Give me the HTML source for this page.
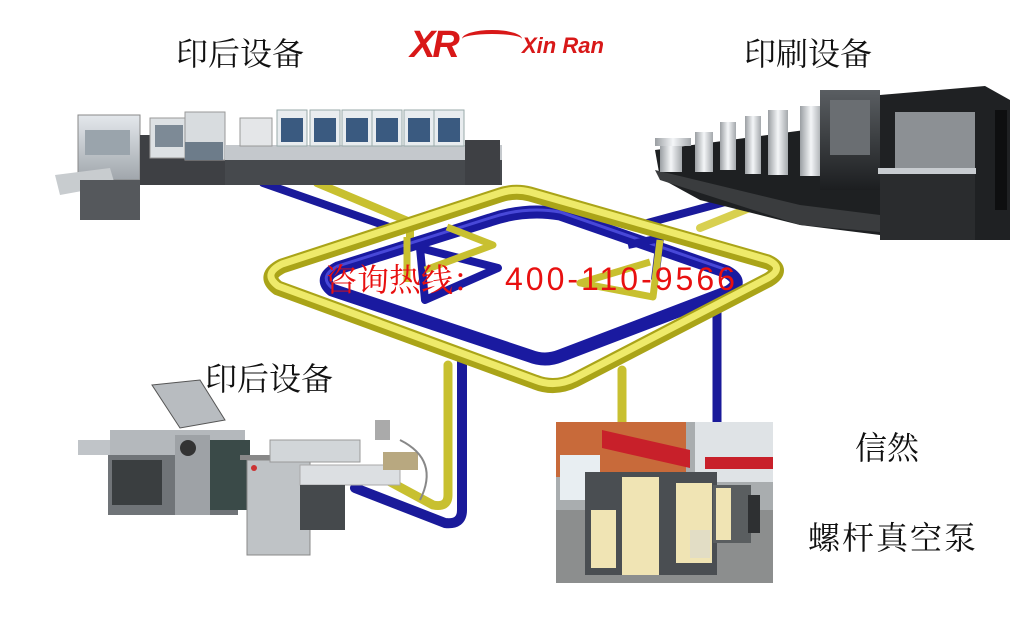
<!DOCTYPE html>
<html><head><meta charset="utf-8"><style>
html,body{margin:0;padding:0;background:#fff;}
body{width:1033px;height:620px;overflow:hidden;position:relative;}
.t{position:absolute;color:#111;font-family:"Noto Serif CJK SC","AR PL UKai CN","WenQuanYi Zen Hei",serif;white-space:nowrap;line-height:1;}
svg{position:absolute;left:0;top:0;}
</style></head><body>
<svg width="1033" height="620" viewBox="0 0 1033 620">
<defs>
<linearGradient id="g1" x1="0" y1="0" x2="0" y2="1"><stop offset="0" stop-color="#e4e8ec"/><stop offset="1" stop-color="#a0a6ac"/></linearGradient>
<linearGradient id="g2" x1="0" y1="0" x2="0" y2="1"><stop offset="0" stop-color="#5a5e62"/><stop offset="1" stop-color="#1c1e20"/></linearGradient>
<linearGradient id="cy" x1="0" y1="0" x2="1" y2="0"><stop offset="0" stop-color="#9a9ea2"/><stop offset=".5" stop-color="#f4f6f8"/><stop offset="1" stop-color="#a4a8ac"/></linearGradient>
</defs>
<g fill="none" stroke-linejoin="round" stroke-linecap="round">
<path d="M263 183 L392 228" stroke="#1a1a9a" stroke-width="8"/>
<path d="M317 183 L410 222 L410 240" stroke="#c8c030" stroke-width="8"/>
<path d="M740 198 L640 225" stroke="#1a1a9a" stroke-width="8"/>
<path d="M757 205 L700 228" stroke="#d8d050" stroke-width="8"/>
<path d="M717 300 L717 422" stroke="#1a1a9a" stroke-width="9"/>
<path d="M622 370 L622 422" stroke="#c8c030" stroke-width="9"/>
<path d="M462 355 L462 510 Q462 525 445 523 L355 488" stroke="#1a1a9a" stroke-width="10"/>
<path d="M448 365 L448 495 Q448 508 433 505 L383 478" stroke="#c8c030" stroke-width="9"/>
</g>
<!-- blue loop -->
<path d="M332 290 Q318 278 338 268 L490 220 Q525 208 560 214 L727 272 Q745 282 728 292 L560 356 Q545 362 530 356 Z" fill="none" stroke="#1a1aa0" stroke-width="13" stroke-linejoin="round"/>
<path d="M332 288 Q318 276 338 266 L490 218 Q525 206 560 212 L727 270" fill="none" stroke="#4848d8" stroke-width="3"/>
<g fill="none" stroke-linejoin="round">
<path d="M420 248 L498 268 L425 300 Z" stroke="#1a1aa0" stroke-width="8"/>
<path d="M628 245 L660 238 L655 280" stroke="#1a1aa0" stroke-width="8"/>
<path d="M407 237 L407 282 M447 227 L493 245 L425 270" stroke="#c8c030" stroke-width="7"/>
<path d="M660 240 L653 297 L580 283 L650 262" stroke="#c8c030" stroke-width="7"/>
</g>
<!-- yellow loop -->
<path d="M278 288 Q262 276 282 266 L500 195 Q515 190 530 194 L768 262 Q785 270 768 280 L575 380 Q555 390 535 382 Z" fill="none" stroke="#aaa418" stroke-width="15" stroke-linejoin="round"/>
<path d="M278 286 Q262 274 282 264 L500 193 Q515 188 530 192 L768 260 Q785 268 768 278 L575 378 Q555 388 535 380 Z" fill="none" stroke="#eeea6a" stroke-width="7" stroke-linejoin="round"/>
<!-- top-left machine -->
<g>
<rect x="78" y="115" width="62" height="65" fill="url(#g1)" stroke="#888"/>
<rect x="85" y="130" width="45" height="25" fill="#9aa4ac"/>
<polygon points="55,175 110,168 115,185 60,195" fill="#c8cccf"/>
<rect x="80" y="180" width="60" height="40" fill="#55585c"/>
<rect x="140" y="135" width="85" height="50" fill="#3e4044"/>
<rect x="150" y="118" width="38" height="40" fill="#dde1e4" stroke="#999"/>
<rect x="155" y="125" width="28" height="22" fill="#7d8a96"/>
<rect x="185" y="112" width="40" height="48" fill="#d8dcdf" stroke="#999"/>
<rect x="185" y="142" width="38" height="18" fill="#6d7c8a"/>
<rect x="225" y="145" width="277" height="40" fill="#46494d"/>
<rect x="225" y="145" width="277" height="15" fill="#c4c8cc"/>
<rect x="240" y="118" width="32" height="28" fill="#e4e6e8" stroke="#999"/>
<g fill="#e8ecef" stroke="#9aa">
<rect x="277" y="110" width="30" height="36"/><rect x="310" y="110" width="30" height="36"/><rect x="342" y="110" width="30" height="36"/><rect x="372" y="110" width="30" height="36"/><rect x="404" y="110" width="30" height="36"/><rect x="434" y="110" width="30" height="36"/>
</g>
<g fill="#3a5a80"><rect x="281" y="118" width="22" height="24"/><rect x="314" y="118" width="22" height="24"/><rect x="346" y="118" width="22" height="24"/><rect x="376" y="118" width="22" height="24"/><rect x="408" y="118" width="22" height="24"/><rect x="438" y="118" width="22" height="24"/></g>
<rect x="465" y="140" width="35" height="45" fill="#3e4044"/>
</g>
<!-- top-right machine -->
<g>
<polygon points="655,150 880,120 880,235 800,225 700,200 660,178" fill="#1e2022"/>
<polygon points="655,170 800,205 880,215 880,232 800,225 660,180" fill="#3a3c3e"/>
<g fill="url(#cy)">
<rect x="660" y="140" width="22" height="32"/><rect x="695" y="132" width="18" height="40"/><rect x="720" y="122" width="16" height="48"/><rect x="745" y="116" width="16" height="58"/><rect x="768" y="110" width="20" height="65"/><rect x="800" y="106" width="22" height="70"/>
<rect x="655" y="138" width="36" height="8"/>
</g>
<rect x="820" y="90" width="60" height="100" fill="url(#g2)"/>
<rect x="830" y="100" width="40" height="55" fill="#6a6e72"/>
<polygon points="880,95 985,86 1010,100 1010,240 880,240" fill="#1f2123"/>
<rect x="895" y="112" width="80" height="60" fill="#8c9094"/>
<rect x="878" y="168" width="98" height="6" fill="#c8ccd0"/>
<rect x="880" y="174" width="95" height="66" fill="#2a2c2e"/>
<rect x="995" y="110" width="12" height="100" fill="#0e0f10"/>
</g>
<!-- bottom-left machine -->
<g>
<polygon points="152,385 200,380 225,420 180,428" fill="#b8bcc0" stroke="#555"/>
<rect x="78" y="440" width="70" height="15" fill="#c0c4c8"/>
<rect x="110" y="430" width="135" height="30" fill="#b4b8bc"/>
<rect x="108" y="455" width="130" height="60" fill="#707478"/>
<rect x="112" y="460" width="50" height="45" fill="#3a3e40"/>
<rect x="175" y="435" width="35" height="80" fill="#9ea2a6"/>
<circle cx="188" cy="448" r="8" fill="#333"/>
<rect x="210" y="440" width="40" height="70" fill="#3a4a48"/>
<rect x="240" y="455" width="32" height="5" fill="#888"/>
<rect x="247" y="460" width="63" height="95" fill="#bfc3c6" stroke="#888"/>
<circle cx="254" cy="468" r="3" fill="#c33"/>
<rect x="270" y="440" width="90" height="22" fill="#d2d6d9" stroke="#999"/>
<rect x="300" y="465" width="100" height="20" fill="#dcdfe2" stroke="#aaa"/>
<rect x="300" y="485" width="45" height="45" fill="#45494c"/>
<rect x="375" y="420" width="15" height="20" fill="#aaa"/>
<rect x="383" y="452" width="35" height="18" fill="#b8a880"/>
<path d="M400 440 Q440 460 420 500" fill="none" stroke="#888" stroke-width="2"/>
</g>
<!-- photo -->
<g>
<rect x="556" y="422" width="217" height="161" fill="#a9adaf"/>
<rect x="695" y="422" width="78" height="60" fill="#dfe3e6"/>
<rect x="556" y="422" width="130" height="55" fill="#c86a3a"/>
<rect x="560" y="455" width="40" height="45" fill="#e8eef2"/>
<polygon points="602,430 690,450 690,468 602,448" fill="#c8202a"/>
<rect x="705" y="457" width="68" height="12" fill="#c8202a"/>
<rect x="556" y="510" width="217" height="73" fill="#8c8e8e"/>
<rect x="585" y="472" width="132" height="103" fill="#4a4e52"/>
<rect x="622" y="477" width="37" height="98" fill="#f0e4b4"/>
<rect x="591" y="510" width="25" height="58" fill="#f0e4b4"/>
<rect x="676" y="483" width="36" height="80" fill="#f0e4b4"/>
<rect x="690" y="530" width="20" height="28" fill="#d8d8d0" opacity=".6"/>
<rect x="713" y="485" width="38" height="58" fill="#5a5e60"/>
<rect x="716" y="488" width="15" height="52" fill="#f0e4b4"/>
<rect x="748" y="495" width="12" height="38" fill="#2e3032"/>
</g>
</svg>
<div class="t" style="left:176px;top:36px;font-size:32px;">印后设备</div>
<div class="t" style="left:744px;top:36px;font-size:32px;">印刷设备</div>
<div class="t" style="left:205px;top:361px;font-size:32px;">印后设备</div>
<div class="t" style="left:855px;top:430px;font-size:32px;">信然</div>
<div class="t" style="left:808px;top:520px;font-size:32px;letter-spacing:2px;">螺杆真空泵</div>
<div class="t" style="left:410px;top:26px;font-size:38px;color:#d81818;font-family:'Liberation Sans',sans-serif;font-weight:bold;font-style:italic;letter-spacing:-3px;">XR</div>
<div class="t" style="left:462px;top:30px;width:60px;height:14px;border-top:4px solid #d81818;border-radius:50%;"></div>
<div class="t" style="left:522px;top:35px;font-size:22px;color:#d81818;font-family:'Liberation Sans',sans-serif;font-weight:bold;font-style:italic;">Xin Ran</div>
<div class="t" style="left:325px;top:262px;font-size:32px;color:#e81010;">咨询热线：</div>
<div class="t" style="left:505px;top:263px;font-size:32px;color:#e81010;font-family:'Liberation Sans',sans-serif;letter-spacing:3px;">400-110-9566</div>
</body></html>
